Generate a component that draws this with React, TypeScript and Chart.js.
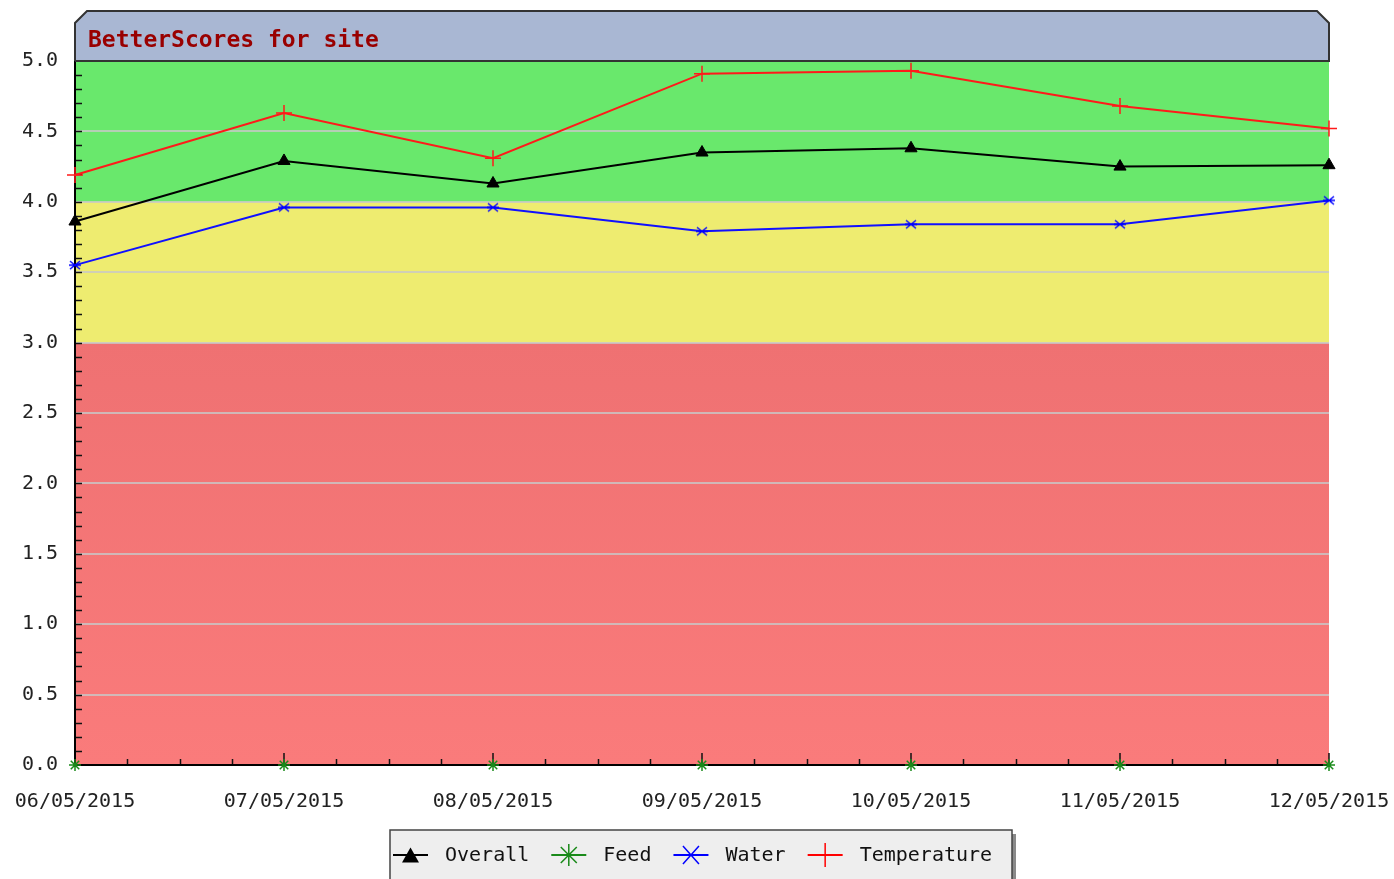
import React, { useEffect, useRef } from "react";
import { Chart, registerables } from "chart.js";

Chart.register(...registerables);

const categories = ["06/05/2015", "07/05/2015", "08/05/2015", "09/05/2015", "10/05/2015", "11/05/2015", "12/05/2015"];
const overall = [3.86, 4.29, 4.13, 4.35, 4.38, 4.25, 4.26];
const feed = [0, 0, 0, 0, 0, 0, 0];
const water = [3.55, 3.96, 3.96, 3.79, 3.84, 3.84, 4.01];
const temperature = [4.19, 4.63, 4.31, 4.91, 4.93, 4.68, 4.52];
const seriesNames = ["Overall", "Feed", "Water", "Temperature"];
const bandLimits = [0, 3, 4, 5];
const yMin = 0;
const yMax = 5;
const yStep = 0.5;
const titleText = "BetterScores for site";

const MONO = "'DejaVu Sans Mono', 'Liberation Mono', monospace";

function makeWaterPoint(): HTMLCanvasElement {
  const c = document.createElement("canvas");
  c.width = 14;
  c.height = 12;
  const g = c.getContext("2d")!;
  g.strokeStyle = "#0000ff";
  g.lineWidth = 1.5;
  g.beginPath();
  g.moveTo(2, 2); g.lineTo(12, 10);
  g.moveTo(2, 10); g.lineTo(12, 2);
  g.moveTo(1, 6); g.lineTo(13, 6);
  g.stroke();
  return c;
}

function drawTriangle(ctx: CanvasRenderingContext2D, x: number, y: number, w: number, h: number) {
  ctx.beginPath();
  ctx.moveTo(x, y - h / 2);
  ctx.lineTo(x + w / 2, y + h / 2);
  ctx.lineTo(x - w / 2, y + h / 2);
  ctx.closePath();
  ctx.fill();
}

const decorPlugin = {
  id: "decor",
  beforeDraw(chart: any) {
    const ctx = chart.ctx as CanvasRenderingContext2D;
    const { left, right, top } = chart.chartArea;
    const ys = chart.scales.y;
    ctx.save();
    ctx.fillStyle = "#ffffff";
    ctx.fillRect(0, 0, chart.width, chart.height);
    const y0 = ys.getPixelForValue(bandLimits[0]);
    const y3 = ys.getPixelForValue(bandLimits[1]);
    const y4 = ys.getPixelForValue(bandLimits[2]);
    const y5 = ys.getPixelForValue(bandLimits[3]);
    const grad = ctx.createLinearGradient(0, y3, 0, y0);
    grad.addColorStop(0, "#ef7172");
    grad.addColorStop(1, "#fa7b7b");
    ctx.fillStyle = grad;
    ctx.fillRect(left, y3, right - left, y0 - y3);
    ctx.fillStyle = "#eeec70";
    ctx.fillRect(left, y4, right - left, y3 - y4);
    ctx.fillStyle = "#69e86c";
    ctx.fillRect(left, y5, right - left, y4 - y5);
    // title bar
    const tTop = 11;
    const cut = 12;
    ctx.beginPath();
    ctx.moveTo(left, top);
    ctx.lineTo(left, tTop + cut);
    ctx.lineTo(left + cut, tTop);
    ctx.lineTo(right - cut, tTop);
    ctx.lineTo(right, tTop + cut);
    ctx.lineTo(right, top);
    ctx.closePath();
    ctx.fillStyle = "#a9b7d3";
    ctx.fill();
    ctx.strokeStyle = "#333333";
    ctx.lineWidth = 2;
    ctx.stroke();
    ctx.fillStyle = "#990000";
    ctx.font = `bold 23px ${MONO}`;
    ctx.textBaseline = "alphabetic";
    ctx.textAlign = "left";
    ctx.fillText(titleText, left + 13, 47);
    ctx.restore();
  },
  beforeDatasetsDraw(chart: any) {
    const ctx = chart.ctx as CanvasRenderingContext2D;
    const { left, right, top, bottom } = chart.chartArea;
    const ys = chart.scales.y;
    const xs = chart.scales.x;
    ctx.save();
    ctx.strokeStyle = "#111111";
    ctx.lineWidth = 1.5;
    ctx.beginPath();
    for (let i = 1; i < 50; i++) {
      const py = Math.round(ys.getPixelForValue(i / 10)) + 0.5;
      ctx.moveTo(left, py);
      ctx.lineTo(left + 7, py);
    }
    const n = categories.length;
    for (let i = 0; i < n; i++) {
      const px = xs.getPixelForValue(i);
      ctx.moveTo(px, bottom);
      ctx.lineTo(px, bottom - 12);
      if (i < n - 1) {
        const nx = xs.getPixelForValue(i + 1);
        for (let k = 1; k < 4; k++) {
          const mx = Math.round(px + ((nx - px) * k) / 4) + 0.5;
          ctx.moveTo(mx, bottom);
          ctx.lineTo(mx, bottom - 6);
        }
      }
    }
    ctx.stroke();
    ctx.strokeStyle = "#000000";
    ctx.lineWidth = 2;
    ctx.beginPath();
    ctx.moveTo(left, top);
    ctx.lineTo(left, bottom);
    ctx.lineTo(right, bottom);
    ctx.stroke();
    ctx.strokeStyle = "#333333";
    ctx.beginPath();
    ctx.moveTo(left, top);
    ctx.lineTo(right, top);
    ctx.stroke();
    ctx.restore();
  },
  afterDraw(chart: any) {
    const ctx = chart.ctx as CanvasRenderingContext2D;
    ctx.save();
    const bx = 390, by = 830, bw = 622, bh = 60;
    ctx.fillStyle = "#8a8a8a";
    ctx.fillRect(bx + 4, by + 4, bw, bh);
    ctx.fillStyle = "#eeeeee";
    ctx.fillRect(bx, by, bw, bh);
    ctx.strokeStyle = "#444444";
    ctx.lineWidth = 1.5;
    ctx.strokeRect(bx, by, bw, bh);
    ctx.font = `20px ${MONO}`;
    ctx.textBaseline = "middle";
    ctx.textAlign = "left";
    const cy = 855;
    const colors = ["#000000", "#1a8a1a", "#0000ff", "#ff0000"];
    let x = 393;
    seriesNames.forEach((name, i) => {
      const lineLen = 35;
      const cx = x + lineLen / 2;
      ctx.strokeStyle = colors[i];
      ctx.fillStyle = colors[i];
      ctx.lineWidth = 2;
      ctx.beginPath();
      ctx.moveTo(x, cy);
      ctx.lineTo(x + lineLen, cy);
      ctx.stroke();
      ctx.lineWidth = 1.5;
      if (i === 0) {
        drawTriangle(ctx, cx, cy, 17, 15);
      } else if (i === 1) {
        ctx.beginPath();
        ctx.moveTo(cx - 8, cy - 8); ctx.lineTo(cx + 8, cy + 8);
        ctx.moveTo(cx - 8, cy + 8); ctx.lineTo(cx + 8, cy - 8);
        ctx.moveTo(cx, cy - 11); ctx.lineTo(cx, cy + 11);
        ctx.stroke();
      } else if (i === 2) {
        ctx.beginPath();
        ctx.moveTo(cx - 8, cy - 9); ctx.lineTo(cx + 8, cy + 9);
        ctx.moveTo(cx - 8, cy + 9); ctx.lineTo(cx + 8, cy - 9);
        ctx.stroke();
      } else {
        ctx.beginPath();
        ctx.moveTo(cx, cy - 12); ctx.lineTo(cx, cy + 12);
        ctx.stroke();
      }
      ctx.fillStyle = "#111111";
      const tx = x + lineLen + 17;
      ctx.fillText(name, tx, cy + 1);
      x = tx + ctx.measureText(name).width + 22;
    });
    ctx.restore();
  },
};

export default function App() {
  const ref = useRef<HTMLCanvasElement | null>(null);
  useEffect(() => {
    document.body.style.margin = "0";
    const canvas = ref.current!;
    const chart = new Chart(canvas, {
      type: "line",
      data: {
        labels: categories,
        datasets: [
          {
            label: seriesNames[0],
            data: overall,
            borderColor: "#000000",
            backgroundColor: "#000000",
            borderWidth: 2,
            pointStyle: "triangle",
            pointRadius: 7,
            pointBorderWidth: 1,
            clip: false,
          },
          {
            label: seriesNames[1],
            data: feed,
            borderColor: "#1a8a1a",
            backgroundColor: "#1a8a1a",
            showLine: false,
            pointStyle: "star",
            pointRadius: 6,
            pointBorderWidth: 1.5,
            clip: false,
          },
          {
            label: seriesNames[2],
            data: water,
            borderColor: "#1010ff",
            backgroundColor: "#0000ff",
            borderWidth: 2,
            pointStyle: makeWaterPoint(),
            clip: false,
          },
          {
            label: seriesNames[3],
            data: temperature,
            borderColor: "#ff1a1a",
            backgroundColor: "#ff0000",
            borderWidth: 2,
            pointStyle: "cross",
            pointRadius: 8,
            pointBorderWidth: 1.5,
            clip: false,
          },
        ] as any,
      },
      options: {
        responsive: false,
        animation: false,
        devicePixelRatio: 1,
        layout: { padding: { left: 0, right: 65, top: 61, bottom: 0 } },
        plugins: { legend: { display: false }, title: { display: false }, tooltip: { enabled: false } },
        elements: { line: { tension: 0 } },
        scales: {
          x: {
            type: "category",
            offset: false,
            grid: { display: false, drawTicks: false },
            border: { display: false },
            ticks: {
              color: "#222222",
              font: { family: MONO, size: 20 },
              padding: 25,
              maxRotation: 0,
              autoSkip: false,
            },
            afterFit: (s: any) => {
              s.height = 114;
              s.paddingLeft = 0;
              s.paddingRight = 0;
            },
          },
          y: {
            min: yMin,
            max: yMax,
            grid: { color: "rgba(200,200,200,0.8)", lineWidth: 2, drawTicks: false },
            border: { display: false },
            ticks: {
              stepSize: yStep,
              color: "#222222",
              font: { family: MONO, size: 20 },
              padding: 17,
              callback: (v: any) => Number(v).toFixed(1),
            },
            afterFit: (s: any) => {
              s.width = 75;
              s.paddingTop = 0;
              s.paddingBottom = 0;
            },
          },
        },
      } as any,
      plugins: [decorPlugin],
    });
    return () => chart.destroy();
  }, []);
  return <canvas ref={ref} width={1394} height={879} style={{ display: "block" }} />;
}
